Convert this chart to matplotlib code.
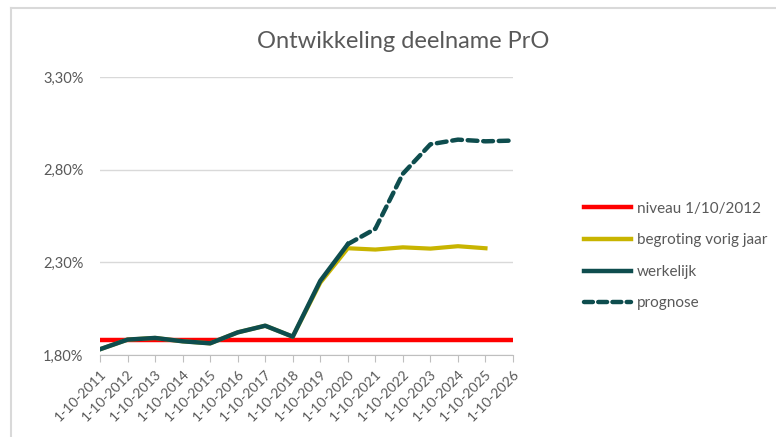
import matplotlib.pyplot as plt
from matplotlib.lines import Line2D

plt.rcParams['font.family'] = ['Lato', 'DejaVu Sans']

dates = ["1-10-2011", "1-10-2012", "1-10-2013", "1-10-2014", "1-10-2015",
         "1-10-2016", "1-10-2017", "1-10-2018", "1-10-2019", "1-10-2020",
         "1-10-2021", "1-10-2022", "1-10-2023", "1-10-2024", "1-10-2025",
         "1-10-2026"]
niveau = [1.883] * 16
werkelijk = [1.831, 1.883, 1.892, 1.874, 1.863, 1.922, 1.958, 1.899, 2.20, 2.398]
begroting = [1.831, 1.883, 1.892, 1.874, 1.863, 1.922, 1.958, 1.899, 2.19, 2.376,
             2.369, 2.381, 2.374, 2.387, 2.376]
prognose = [2.398, 2.481, 2.778, 2.937, 2.962, 2.953, 2.957]

grey_txt = "#595959"
red = "#FF0000"
gold = "#C8B400"
teal = "#0E4D4E"

fig = plt.figure(figsize=(7.76, 4.37), dpi=100)
ax = fig.add_axes([100 / 776, 82 / 437, 413 / 776, 278 / 437])

x_all = list(range(len(dates)))
ax.plot(x_all, niveau, color=red, lw=3.2, solid_capstyle='butt')
ax.plot(x_all[:len(begroting)], begroting, color=gold, lw=3.0)
ax.plot(x_all[:len(werkelijk)], werkelijk, color=teal, lw=3.2)
ax.plot(x_all[9:9 + len(prognose)], prognose, color=teal, lw=3.2,
        dashes=(2.2, 1.3), dash_capstyle='round')

ax.set_xlim(0, 15)
ax.set_ylim(1.8, 3.3)
ax.set_yticks([1.8, 2.3, 2.8, 3.3])
ax.set_yticklabels(["1,80%", "2,30%", "2,80%", "3,30%"])
ax.set_xticks(x_all)
ax.set_xticklabels(dates, rotation=45, ha='right', rotation_mode='anchor')
ax.grid(axis='y', color="#D9D9D9", lw=1.0)
ax.set_axisbelow(True)
for s in ['left', 'right', 'top']:
    ax.spines[s].set_visible(False)
ax.spines['bottom'].set_color("#BFBFBF")
ax.tick_params(axis='y', length=0, pad=12, labelsize=10.5, labelcolor=grey_txt)
ax.tick_params(axis='x', length=5, color="#BFBFBF", pad=4, labelsize=10,
               labelcolor=grey_txt)

fig.text(403 / 776, 1 - 42 / 437, "Ontwikkeling deelname PrO", ha='center',
         va='center', fontsize=17, color=grey_txt)

handles = [Line2D([], [], color=red, lw=3.2),
           Line2D([], [], color=gold, lw=3.2),
           Line2D([], [], color=teal, lw=3.2),
           Line2D([], [], color=teal, lw=3.2, dashes=(2.0, 1.2), dash_capstyle='round')]
labels = ["niveau 1/10/2012", "begroting vorig jaar", "werkelijk", "prognose"]
fig.legend(handles, labels, loc='upper left', bbox_to_anchor=(570 / 776, 1 - 188 / 437),
           frameon=False, fontsize=11, labelcolor=grey_txt, handlelength=3.1,
           handletextpad=0.4, labelspacing=1.15)

fig.add_artist(Line2D([11 / 776, 11 / 776], [0, 1 - 8 / 437], color="#D9D9D9", lw=1.5))
fig.add_artist(Line2D([11 / 776, 1], [1 - 8 / 437, 1 - 8 / 437], color="#D9D9D9", lw=1.5))

fig.savefig("out.png", dpi=100)
